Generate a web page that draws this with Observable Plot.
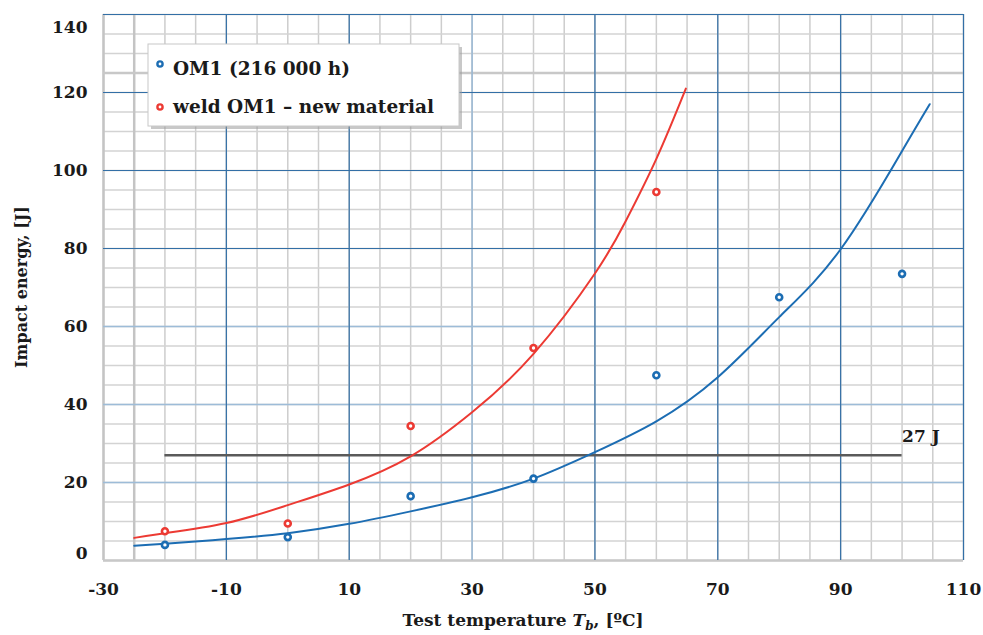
<!DOCTYPE html>
<html><head><meta charset="utf-8">
<script src="https://cdn.jsdelivr.net/npm/d3@7"></script>
<script src="https://cdn.jsdelivr.net/npm/@observablehq/plot@0.6"></script>
<style>
body{margin:0;background:#fff;}
#chart{position:relative;width:983px;height:635px;}
</style></head><body><div id="chart"></div>
<script>
// ---- data ----
const om1Temp   = [-20, 0, 20, 40, 60, 80, 100];
const om1Energy = [4, 6, 16.5, 21, 47.5, 67.5, 73.5];
const weldTemp   = [-20, 0, 20, 40, 60];
const weldEnergy = [7.5, 9.5, 34.5, 54.5, 94.5];
// fitted trend curves as drawn in the figure
const om1FitTemp   = [-25, -20, -10, 0, 10, 20, 30, 40, 50, 60, 70, 80, 90, 100, 104.5];
const om1FitEnergy = [3.8, 4.3, 5.5, 7.0, 9.4, 12.6, 16.2, 21, 27.8, 35.7, 47, 62.4, 79.8, 105, 117];
const weldFitTemp   = [-25, -20, -10, 0, 10, 20, 30, 40, 50, 55, 60, 64.8];
const weldFitEnergy = [5.8, 7.0, 9.6, 14.2, 19.5, 26.7, 38, 53, 73.6, 87, 103, 121];
// 27 J reference level
const refLevel = [{energy: 27, from: -20, to: 100, label: "27 J"}];
// series names
const seriesNames = ["OM1 (216 000 h)", "weld OM1 \u2013 new material"];
// ticks and grid
const xTicks = [-30, -10, 10, 30, 50, 70, 90, 110];
const yTicks = [0, 20, 40, 60, 80, 100, 120, 140];
const xMinor = [-30,-25,-20,-15,-10,-5,0,5,10,15,20,25,30,35,40,45,50,55,60,65,70,75,80,85,90,95,100,105,110];
const yMinor = [0,5,10,15,20,25,30,35,40,45,50,55,60,65,70,75,80,85,90,95,100,105,110,115,120,125,130,135,140];
const xMajorDark = [-10, 10, 50, 70, 90, 110];
const xMajorLight = [30];
const yMajorDark = [80, 100, 120, 140];
const yMajorLight = [20, 40, 60];
const xEmph = [-30, -25];
const yEmph = [0, 125];

const BLUE = "#1c6db3", RED = "#ec3a33";
const om1 = om1Temp.map((t,i)=>({t, e: om1Energy[i]}));
const weld = weldTemp.map((t,i)=>({t, e: weldEnergy[i]}));
const om1Fit = om1FitTemp.map((t,i)=>({t, e: om1FitEnergy[i]}));
const weldFit = weldFitTemp.map((t,i)=>({t, e: weldFitEnergy[i]}));

const FONT = "DejaVu Serif";
const fmt = d => String(d);
const plot = Plot.plot({
  width: 983, height: 635,
  marginLeft: 103, marginRight: 20, marginTop: 14, marginBottom: 75,
  x: {domain: [-30, 110]},
  y: {domain: [0, 140]},
  style: {fontFamily: FONT, fontWeight: "bold", fontSize: "17px", color: "#1a1a1a", background: "#fff"},
  marks: [
    Plot.ruleX(xMinor, {stroke: "#cdcdcd", strokeWidth: 1.5}),
    Plot.ruleY(yMinor, {stroke: "#d3d3d3", strokeWidth: 1.5}),
    Plot.ruleX(xEmph, {stroke: "#c4c4c4", strokeWidth: 2.5}),
    Plot.ruleY(yEmph, {stroke: "#c8c8c8", strokeWidth: 2.5}),
    Plot.ruleX(xMajorLight, {stroke: "#8fb3d4", strokeWidth: 1.3}),
    Plot.ruleY(yMajorLight, {stroke: "#9dbcd8", strokeWidth: 1.3}),
    Plot.ruleX(xMajorDark, {stroke: "#336fa6", strokeWidth: 1.2}),
    Plot.ruleY(yMajorDark, {stroke: "#336fa6", strokeWidth: 1.2}),
    Plot.axisX(xTicks, {tickSize: 0, tickPadding: 22, label: null, tickFormat: fmt, fontSize: 17, fontWeight: "bold"}),
    Plot.axisY(yTicks.filter(v => v > 0 && v < 140), {tickSize: 0, tickPadding: 16, label: null, tickFormat: fmt, fontSize: 17, fontWeight: "bold"}),
    Plot.axisY([140], {tickSize: 0, tickPadding: 16, label: null, tickFormat: fmt, fontSize: 17, fontWeight: "bold", dy: 13}),
    Plot.axisY([0], {tickSize: 0, tickPadding: 16, label: null, tickFormat: fmt, fontSize: 17, fontWeight: "bold", dy: -7}),
    Plot.ruleY(refLevel, {y: "energy", x1: "from", x2: "to", stroke: "#5a5a5a", strokeWidth: 2.5}),
    Plot.text(refLevel, {x: "to", y: "energy", text: "label", textAnchor: "start", dy: -19, fontSize: 17, fontWeight: "bold"}),
    Plot.line(weldFit, {x: "t", y: "e", stroke: RED, strokeWidth: 2, curve: "natural"}),
    Plot.line(om1Fit, {x: "t", y: "e", stroke: BLUE, strokeWidth: 2, curve: "natural"}),
    Plot.dot(weld, {x: "t", y: "e", r: 3, stroke: RED, strokeWidth: 2.6, fill: "#fff"}),
    Plot.dot(om1, {x: "t", y: "e", r: 3, stroke: BLUE, strokeWidth: 2.6, fill: "#fff"})
  ]
});
document.getElementById("chart").appendChild(plot);

const svg = d3.select(plot);
// axis titles
svg.append("text")
  .attr("transform", "translate(27,287) rotate(-90)")
  .attr("text-anchor", "middle")
  .attr("font-family", FONT).attr("font-weight", "bold").attr("font-size", 16).attr("fill", "#1a1a1a")
  .text("Impact energy, [J]");
const xt = svg.append("text")
  .attr("x", 523).attr("y", 626)
  .attr("text-anchor", "middle")
  .attr("font-family", FONT).attr("font-weight", "bold").attr("font-size", 17).attr("fill", "#1a1a1a");
xt.append("tspan").text("Test temperature ");
xt.append("tspan").attr("font-style", "italic").text("T");
xt.append("tspan").attr("font-style", "italic").attr("font-size", 12).attr("dy", 4).text("b");
xt.append("tspan").attr("dy", -4).text(", [\u00baC]");

// legend
const lg = svg.append("g");
lg.append("rect").attr("x", 151).attr("y", 47).attr("width", 311).attr("height", 82).attr("fill", "#9a9a9a").attr("opacity", 0.55);
lg.append("rect").attr("x", 148).attr("y", 44).attr("width", 311).attr("height", 82).attr("fill", "#fff").attr("stroke", "#c8c8c8");
const colors = [BLUE, RED];
const markerY = [64, 107], textY = [75, 113];
seriesNames.forEach((name, i) => {
  lg.append("circle").attr("cx", 160).attr("cy", markerY[i]).attr("r", 2.6).attr("fill", "#fff").attr("stroke", colors[i]).attr("stroke-width", 2.4);
  lg.append("text").attr("x", 173).attr("y", textY[i])
    .attr("text-anchor", "start")
    .attr("font-family", FONT).attr("font-weight", "bold").attr("font-size", 18.5).attr("fill", "#1a1a1a")
    .text(name);
});
</script></body></html>
